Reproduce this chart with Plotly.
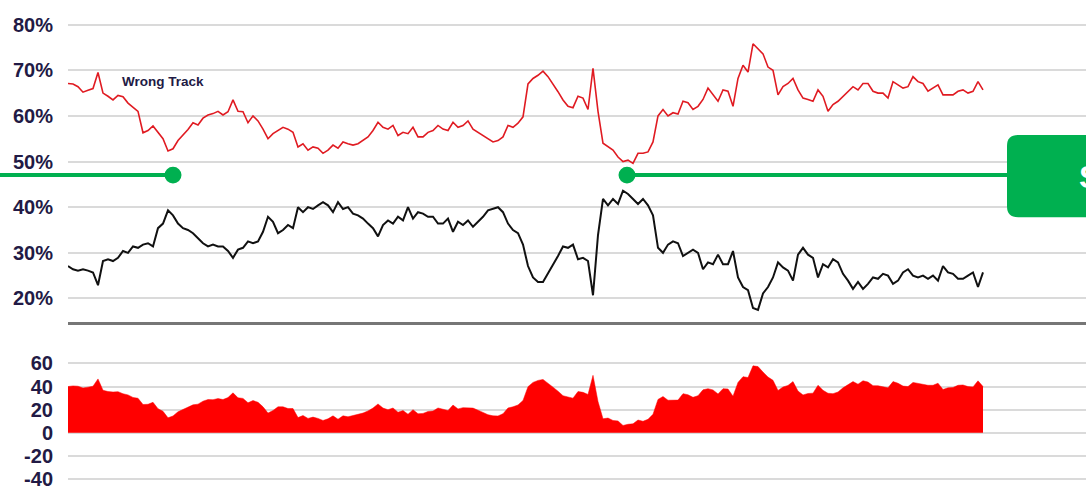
import plotly.graph_objects as go

# ── Palette ────────────────────────────────────────────────────────────────
RED_LINE = "#e01b22"
RED_FILL = "#ff0000"
BLACK = "#111111"
GRID = "#dadada"
AXIS = "#767676"
INK = "#221a45"
GREEN = "#00b050"
FONT = "Liberation Sans, Arial, sans-serif"

# ── Data (one point every ~5 px) ───────────────────────────────────────────
wrong_track = [
    67.1, 67.0, 66.4, 65.2, 65.6, 66.0, 69.5, 65.0, 64.3, 63.5,
    64.5, 64.2, 62.8, 62.0, 61.0, 56.3, 56.8, 57.8, 56.3, 55.0,
    52.3, 52.8, 54.6, 55.8, 57.0, 58.5, 58.0, 59.5, 60.2, 60.5,
    61.0, 60.2, 60.9, 63.5, 61.0, 60.9, 58.5,
    60.0, 58.9, 57.1, 55.0, 56.1, 56.8, 57.5, 57.1, 56.4, 53.2,
    53.9, 52.5, 53.2, 52.9, 51.8, 52.5, 53.6, 52.9, 54.3, 53.9,
    53.6, 53.9, 54.6, 55.4, 56.8, 58.6, 57.5, 57.1, 57.9, 55.7,
    56.4, 56.1, 57.5, 55.4, 55.4, 56.4, 56.8, 57.9,
    57.1, 56.8, 58.6, 57.5, 57.9, 58.9, 57.1, 56.4, 55.7, 55.0,
    54.3, 54.6, 55.4, 57.9, 57.5, 58.4, 59.8, 67.0, 68.2, 68.9,
    69.8, 68.6, 67.0, 65.3, 63.5, 62.1, 61.8, 64.3, 63.9, 61.4,
    70.4, 61.0, 54.0, 53.2, 52.5, 51.0, 50.0, 50.3,
    49.6, 51.8, 51.8, 52.1, 54.3, 60.0, 61.4, 60.0, 60.7, 60.4,
    63.2, 62.9, 61.4, 62.1, 63.6, 66.1, 64.6, 63.2, 65.7, 65.4,
    62.1, 68.2, 71.1, 69.6, 75.8, 74.8, 73.6, 70.7, 70.0, 64.6,
    66.4, 67.1, 68.2, 65.7, 63.9, 63.6, 63.2, 65.7,
    64.3, 61.0, 62.5, 63.2, 64.3, 65.4, 66.4, 65.7, 67.1, 67.1,
    65.4, 65.0, 65.0, 63.9, 67.5, 66.8, 66.1, 66.4, 68.6, 67.5,
    67.1, 65.4, 66.1, 66.8, 64.6, 64.6, 64.6, 65.4, 65.7, 65.0,
    65.4, 67.5, 65.7,
]

right_direction = [
    27.1, 26.4, 26.1, 26.4, 26.1, 25.7, 22.9, 28.2, 28.6, 28.2,
    28.9, 30.4, 30.0, 31.4, 31.1, 31.8, 32.1, 31.4, 35.4, 36.4,
    39.3, 38.2, 36.4, 35.4, 35.0, 34.3, 33.2, 32.1, 31.4, 31.8,
    31.4, 31.4, 30.4, 28.9, 30.7, 31.1, 32.5,
    32.1, 32.5, 34.6, 37.9, 36.8, 34.3, 35.0, 36.1, 35.4, 40.0,
    38.9, 40.0, 39.6, 40.4, 41.1, 40.4, 38.9, 41.1, 39.6, 40.0,
    38.6, 38.2, 37.5, 36.4, 35.4, 33.6, 36.1, 37.1, 36.4, 37.9,
    37.1, 40.0, 37.5, 38.9, 38.6, 37.9, 37.9, 36.4,
    36.4, 37.5, 34.6, 36.8, 36.1, 37.1, 35.7, 36.8, 37.9, 39.3,
    39.6, 40.0, 38.9, 36.4, 35.0, 34.3, 31.8, 27.1, 24.6, 23.6,
    23.6, 25.4, 27.5, 29.3, 31.4, 31.1, 31.8, 28.6, 28.9, 28.2,
    20.7, 33.9, 41.8, 40.4, 41.8, 40.7, 43.6, 42.9,
    41.8, 40.7, 41.8, 40.4, 38.2, 31.1, 30.0, 31.8, 32.5, 32.1,
    29.3, 30.0, 30.7, 30.0, 26.4, 27.9, 27.5, 29.6, 27.5, 27.5,
    30.4, 24.6, 22.5, 21.8, 17.9, 17.5, 21.1, 22.5, 24.6, 27.9,
    26.8, 26.1, 23.9, 29.6, 31.1, 29.6, 28.9, 24.6,
    27.5, 26.8, 28.6, 27.9, 25.4, 23.9, 22.1, 23.6, 22.1, 23.2,
    24.6, 24.3, 25.4, 25.0, 23.2, 23.9, 25.7, 26.4, 25.0, 24.6,
    25.0, 24.3, 25.0, 23.9, 27.1, 25.7, 25.4, 24.3, 24.3, 25.0,
    25.7, 22.5, 25.7,
]

# net = wrong track minus right direction (bottom panel)
net = [round(w - r, 1) for w, r in zip(wrong_track, right_direction)]
x = list(range(len(wrong_track)))

top_ticks = [20, 30, 40, 50, 60, 70, 80]
top_labels = [f"{t}%" for t in top_ticks]
bottom_ticks = [-40, -20, 0, 20, 40, 60]
bottom_labels = [str(t) for t in bottom_ticks]

# ── Geometry helpers (pixel -> paper) ──────────────────────────────────────
W, H, L = 1086, 490, 68
PW = W - L


def px_x(p):
    return (p - L) / PW


def px_y(p):
    return 1 - p / H


fig = go.Figure()
fig.add_trace(go.Scatter(
    x=x, y=wrong_track, mode="lines", line=dict(color=RED_LINE, width=1.6),
    xaxis="x", yaxis="y", hoverinfo="skip",
))
fig.add_trace(go.Scatter(
    x=x, y=right_direction, mode="lines", line=dict(color=BLACK, width=2),
    xaxis="x", yaxis="y", hoverinfo="skip",
))
fig.add_trace(go.Scatter(
    x=x, y=net, mode="lines", fill="tozeroy", fillcolor=RED_FILL,
    line=dict(color=RED_FILL, width=0.5),
    xaxis="x2", yaxis="y2", hoverinfo="skip",
))

tick_font = dict(family=FONT, size=20, color=INK, weight="bold")
xrange = [0, PW / 5.0]

fig.update_layout(
    width=W, height=H,
    paper_bgcolor="white", plot_bgcolor="white",
    margin=dict(l=L, r=0, t=0, b=0),
    showlegend=False,
    xaxis=dict(domain=[0, 1], anchor="y", range=xrange, showgrid=False,
               showticklabels=False, zeroline=False, showline=True,
               linecolor=AXIS, linewidth=2.5),
    yaxis=dict(domain=[px_y(324), px_y(14)], range=[14.9, 81.3],
               tickvals=top_ticks, ticktext=top_labels, tickfont=tick_font,
               showgrid=True, gridcolor=GRID, gridwidth=1.5, zeroline=False,
               ticks="outside", ticklen=10, tickcolor="rgba(0,0,0,0)",
               ticklabeloverflow="allow"),
    xaxis2=dict(domain=[0, 1], anchor="y2", range=xrange, showgrid=False,
                showticklabels=False, zeroline=False, showline=False),
    yaxis2=dict(domain=[0, px_y(345)], range=[-44.2, 78.3],
                tickvals=bottom_ticks, ticktext=bottom_labels, tickfont=tick_font,
                showgrid=True, gridcolor=GRID, gridwidth=1.5, zeroline=False,
                ticks="outside", ticklen=10, tickcolor="rgba(0,0,0,0)",
                ticklabeloverflow="allow"),
)

fig.add_annotation(
    x=px_x(120), y=px_y(78), xref="paper", yref="paper",
    xanchor="left", yanchor="middle", showarrow=False,
    text="Wrong Track", font=dict(family=FONT, size=13.5, color=INK, weight="bold"),
)

# green callout: two leader lines with end dots, then a rounded box
gy = px_y(174)
for a, b in [(0, 173), (627, 1010)]:
    fig.add_shape(type="line", xref="paper", yref="paper",
                  x0=px_x(a), x1=px_x(b), y0=gy, y1=gy,
                  line=dict(color=GREEN, width=4))
for cx in (173, 627):
    fig.add_shape(type="circle", xref="paper", yref="paper",
                  x0=px_x(cx - 8.5), x1=px_x(cx + 8.5),
                  y0=px_y(174 + 8.5), y1=px_y(174 - 8.5),
                  fillcolor=GREEN, line=dict(width=0))

bx0, bx1 = px_x(1007), px_x(1130)
btop, bbot = px_y(133), px_y(217)
rx, ry = 11 / PW, 11 / H
path = (f"M {bx0 + rx},{btop} L {bx1},{btop} L {bx1},{bbot} L {bx0 + rx},{bbot} "
        f"Q {bx0},{bbot} {bx0},{bbot + ry} L {bx0},{btop - ry} "
        f"Q {bx0},{btop} {bx0 + rx},{btop} Z")
fig.add_shape(type="path", xref="paper", yref="paper", path=path,
              fillcolor=GREEN, line=dict(width=0))
fig.add_annotation(
    x=px_x(1077), y=px_y(176), xref="paper", yref="paper",
    xanchor="left", yanchor="middle", showarrow=False,
    text="S", font=dict(family=FONT, size=32, color="white", weight="bold"),
)

# the page's default body margin would push the figure 8px off the window
fig.write_html(
    "out.html",
    config={"displayModeBar": False},
    post_script="document.body.style.margin='0';document.body.style.overflow='hidden';",
)
